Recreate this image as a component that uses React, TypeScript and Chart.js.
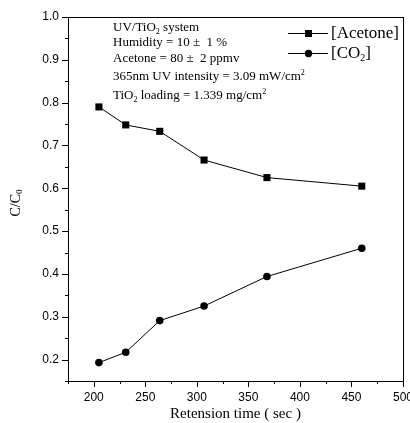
import React, { useEffect, useRef } from "react";
import { Chart, registerables } from "chart.js";

Chart.register(...registerables);

const retentionTime = [205, 231, 264, 307, 368, 460];
const acetone = [0.79, 0.748, 0.733, 0.666, 0.625, 0.605];
const co2 = [0.193, 0.217, 0.291, 0.325, 0.394, 0.46];
const seriesNames = ["[Acetone]", "[CO2]"];
const xTitle = "Retension time ( sec )";

type Seg = { t: string; sub?: boolean; sup?: boolean };

const annotations: Seg[][] = [
  [{ t: "UV/TiO" }, { t: "2", sub: true }, { t: " system" }],
  [{ t: "Humidity = 10 \u00b1  1 %" }],
  [{ t: "Acetone = 80 \u00b1  2 ppmv" }],
  [{ t: "365nm UV intensity = 3.09 mW/cm" }, { t: "2", sup: true }],
  [{ t: "TiO" }, { t: "2", sub: true }, { t: " loading = 1.339 mg/cm" }, { t: "2", sup: true }],
];
const annotationOffsets = [11, 26, 42, 60, 79];

const SERIF = "'Liberation Serif', 'Times New Roman', serif";
const SANS = "'Liberation Sans', Arial, sans-serif";

function drawSegs(ctx: CanvasRenderingContext2D, segs: Seg[], x: number, y: number, size: number) {
  let cx = x;
  ctx.textBaseline = "middle";
  ctx.textAlign = "left";
  for (const s of segs) {
    if (s.sub || s.sup) {
      ctx.font = `${Math.round(size * 0.6)}px ${SERIF}`;
      const dy = s.sub ? size * 0.3 : -size * 0.35;
      ctx.fillText(s.t, cx, y + dy);
      cx += ctx.measureText(s.t).width;
    } else {
      ctx.font = `${size}px ${SERIF}`;
      ctx.fillText(s.t, cx, y);
      cx += ctx.measureText(s.t).width;
    }
  }
  return cx;
}

const framePlugin = {
  id: "frame",
  beforeDraw(chart: any) {
    const { ctx } = chart;
    ctx.save();
    ctx.fillStyle = "#fff";
    ctx.fillRect(0, 0, chart.width, chart.height);
    ctx.restore();
  },
  afterDraw(chart: any) {
    const { ctx, chartArea: a, scales } = chart;
    const xs = scales.x;
    const ys = scales.y;
    ctx.save();
    ctx.strokeStyle = "#000";
    ctx.lineWidth = 1;
    ctx.strokeRect(Math.round(a.left) + 0.5, Math.round(a.top) + 0.5, Math.round(a.right - a.left), Math.round(a.bottom - a.top));
    ctx.beginPath();
    for (let v = 175; v <= 500; v += 25) {
      const px = Math.round(xs.getPixelForValue(v)) + 0.5;
      const len = v % 50 === 0 ? 6 : 3;
      ctx.moveTo(px, Math.round(a.bottom));
      ctx.lineTo(px, Math.round(a.bottom) + len);
    }
    for (let k = 3; k <= 20; k++) {
      const v = k * 0.05;
      const py = Math.round(ys.getPixelForValue(v)) + 0.5;
      const len = k % 2 === 0 ? 6 : 3;
      ctx.moveTo(Math.round(a.left), py);
      ctx.lineTo(Math.round(a.left) - len, py);
    }
    ctx.stroke();

    ctx.fillStyle = "#000";
    ctx.font = `15px ${SERIF}`;
    ctx.textAlign = "center";
    ctx.textBaseline = "middle";
    ctx.fillText(xTitle, (a.left + a.right) / 2, 414);

    ctx.save();
    ctx.translate(16, 203);
    ctx.rotate(-Math.PI / 2);
    ctx.font = `14px ${SERIF}`;
    const w1 = ctx.measureText("C/C").width;
    ctx.font = `9px ${SERIF}`;
    const w2 = ctx.measureText("0").width;
    const start = -(w1 + w2) / 2;
    ctx.textAlign = "left";
    ctx.font = `14px ${SERIF}`;
    ctx.fillText("C/C", start, 0);
    ctx.font = `9px ${SERIF}`;
    ctx.fillText("0", start + w1, 4);
    ctx.restore();

    ctx.fillStyle = "#000";
    annotations.forEach((segs, i) => {
      drawSegs(ctx, segs, a.left + 45, a.top + annotationOffsets[i], 13);
    });

    const rows = [
      { y: a.top + 16, style: "rect", segs: [{ t: "[Acetone]" }] as Seg[] },
      { y: a.top + 36, style: "circle", segs: [{ t: "[CO" }, { t: "2", sub: true }, { t: "]" }] as Seg[] },
    ];
    rows.forEach((r) => {
      const y = Math.round(r.y) + 0.5;
      ctx.beginPath();
      ctx.moveTo(288, y);
      ctx.lineTo(328, y);
      ctx.stroke();
      ctx.beginPath();
      if (r.style === "rect") {
        ctx.fillRect(305, y - 3.5, 7, 7);
      } else {
        ctx.arc(308.5, y, 3.7, 0, Math.PI * 2);
        ctx.fill();
      }
      drawSegs(ctx, r.segs, 331, y, 17);
    });
    ctx.restore();
  },
};

export default function App() {
  const ref = useRef<HTMLCanvasElement>(null);
  useEffect(() => {
    const canvas = ref.current!;
    const chart = new Chart(canvas, {
      type: "line",
      data: {
        datasets: [
          {
            label: seriesNames[0],
            data: retentionTime.map((x, i) => ({ x, y: acetone[i] })),
            borderColor: "#000",
            backgroundColor: "#000",
            borderWidth: 1,
            pointStyle: "rect",
            pointRadius: 5,
            pointBorderWidth: 0,
          },
          {
            label: seriesNames[1],
            data: retentionTime.map((x, i) => ({ x, y: co2[i] })),
            borderColor: "#000",
            backgroundColor: "#000",
            borderWidth: 1,
            pointStyle: "circle",
            pointRadius: 3.8,
            pointBorderWidth: 0,
          },
        ],
      },
      options: {
        responsive: false,
        animation: false,
        layout: { padding: { left: 0, top: 17, right: 7, bottom: 0 } },
        plugins: { legend: { display: false }, tooltip: { enabled: false } },
        scales: {
          x: {
            type: "linear",
            min: 175,
            max: 500,
            afterFit: (s: any) => {
              s.height = 42;
              s.paddingLeft = 0;
              s.paddingRight = 0;
            },
            grid: { display: false, drawTicks: false },
            border: { display: false },
            ticks: {
              stepSize: 25,
              padding: 9,
              color: "#000",
              maxRotation: 0,
              autoSkip: false,
              font: { family: SANS, size: 12 },
              callback: (v: any) => (Number(v) % 50 === 0 ? String(v) : ""),
            },
          },
          y: {
            type: "linear",
            min: 0.15,
            max: 1.0,
            afterFit: (s: any) => {
              s.width = 68;
              s.paddingTop = 0;
              s.paddingBottom = 0;
            },
            grid: { display: false, drawTicks: false },
            border: { display: false },
            ticks: {
              stepSize: 0.05,
              padding: 9,
              color: "#000",
              autoSkip: false,
              font: { family: SANS, size: 12 },
              callback: (v: any) => {
                const n = Math.round(Number(v) * 100);
                return n % 10 === 0 ? (n / 100).toFixed(1) : "";
              },
            },
          },
        },
      },
      plugins: [framePlugin],
    } as any);
    return () => chart.destroy();
  }, []);
  return (
    <div style={{ position: "fixed", left: 0, top: 0, width: 410, height: 423 }}>
      <canvas ref={ref} width={410} height={423} style={{ display: "block" }} />
    </div>
  );
}
